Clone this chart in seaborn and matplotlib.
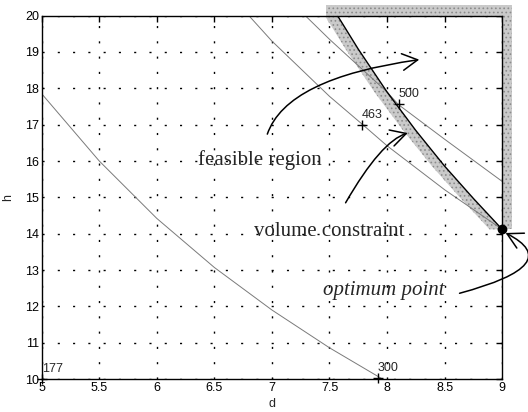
import numpy as np
import matplotlib
matplotlib.use("Agg")
import matplotlib.pyplot as plt
import seaborn as sns

# contour lines of the cost (d, h pairs)
c300_d = [5.0, 5.5, 6.0, 6.5, 7.0, 7.5, 7.96]
c300_h = [17.85, 16.0, 14.42, 13.07, 11.9, 10.86, 10.0]
c463_d = [6.8, 7.0, 7.5, 7.8, 8.0, 8.5, 9.0]
c463_h = [20.0, 19.3, 17.78, 16.97, 16.42, 15.21, 14.12]
c500_d = [7.29, 7.5, 8.0, 8.1, 8.5, 9.0]
c500_h = [20.0, 19.35, 17.9, 17.55, 16.6, 15.44]

# volume constraint boundary
vol_d = [7.57, 7.75, 8.0, 8.25, 8.5, 8.75, 9.0]
vol_h = [20.0, 19.08, 17.9, 16.84, 15.86, 14.97, 14.12]

# labelled points on the contours
lab_d = [5.0, 7.92, 7.78, 8.1]
lab_h = [10.0, 10.03, 16.98, 17.56]
lab_txt = ["177", "300", "463", "500"]

opt_d, opt_h = 9.0, 14.12

xticks = [5, 5.5, 6, 6.5, 7, 7.5, 8, 8.5, 9]
yticks = list(range(10, 21))

sns.set_style("white")
plt.rcParams['font.family'] = ['Liberation Sans', 'DejaVu Sans']
plt.rcParams['hatch.linewidth'] = 0.7

fig = plt.figure(figsize=(5.28, 4.12), dpi=100)
ax = fig.add_axes([0.079, 0.08, 0.872, 0.882])

# stippled infeasible band along the constraint and the box edges
band = dict(facecolor='#cacaca', edgecolor='#8c8c8c', hatch='....', lw=0, zorder=1)
ax.fill_betweenx(vol_h, np.array(vol_d) - 0.11, vol_d, **band)
ax.fill_between([7.47, 9.09], 20.0, 20.28, clip_on=False, **band)
ax.fill_betweenx([opt_h, 20.28], 9.0, 9.085, clip_on=False, **band)

for dd, hh in [(c300_d, c300_h), (c463_d, c463_h), (c500_d, c500_h)]:
    sns.lineplot(x=dd, y=hh, ax=ax, color='#7a7a7a', lw=0.7, sort=False, estimator=None, zorder=2)
sns.lineplot(x=vol_d, y=vol_h, ax=ax, color='black', lw=1.0, sort=False, estimator=None, zorder=3)

ax.plot(lab_d, lab_h, '+', color='black', ms=7, mew=1.0, clip_on=False, zorder=4)
for d0, h0, t in zip(lab_d, lab_h, lab_txt):
    ax.annotate(t, (d0, h0), xytext=(0, 3), textcoords='offset points',
                ha='left', va='bottom', fontsize=9)

ax.plot([opt_d], [opt_h], 'o', color='black', ms=6, clip_on=False, zorder=5)

serif = ['Liberation Serif', 'DejaVu Serif']
ax.text(6.36, 15.9, "feasible region", family=serif, fontsize=15, va='baseline')
ax.text(6.84, 13.95, "volume constraint", family=serif, fontsize=15, va='baseline')
ax.text(7.44, 12.3, "optimum point", family=serif, fontsize=15, style='italic', va='baseline')

arrow = dict(arrowstyle='->,head_length=0.55,head_width=0.3', color='black', lw=1.1,
             shrinkA=0, shrinkB=0, mutation_scale=20)
ax.annotate("", xy=(8.28, 18.79), xytext=(6.96, 16.74),
            arrowprops=dict(arrow, connectionstyle='angle3,angleA=71,angleB=8'))
ax.annotate("", xy=(8.18, 16.77), xytext=(7.64, 14.85),
            arrowprops=dict(arrow, connectionstyle='angle3,angleA=60,angleB=17'))
ax.annotate("", xy=(9.03, 14.02), xytext=(8.63, 12.36),
            arrowprops=dict(arrow, connectionstyle='angle3,angleA=15,angleB=153'),
            annotation_clip=False)

ax.set_xlim(5, 9)
ax.set_ylim(10, 20)
ax.set_xticks(xticks)
ax.set_xticklabels([f"{v:g}" for v in xticks])
ax.set_yticks(yticks)
ax.tick_params(direction='in', length=4, width=1, top=True, right=True,
               labelsize=9, pad=2, colors='black')
ax.grid(True, color='black', linestyle=(0, (1.5, 9.5)), lw=1.0)
for s in ax.spines.values():
    s.set_color('black')
    s.set_linewidth(1.0)
ax.set_xlabel("d", fontsize=9, labelpad=3)
ax.set_ylabel("h", fontsize=9, labelpad=8)

fig.savefig("out.png", dpi=100)
